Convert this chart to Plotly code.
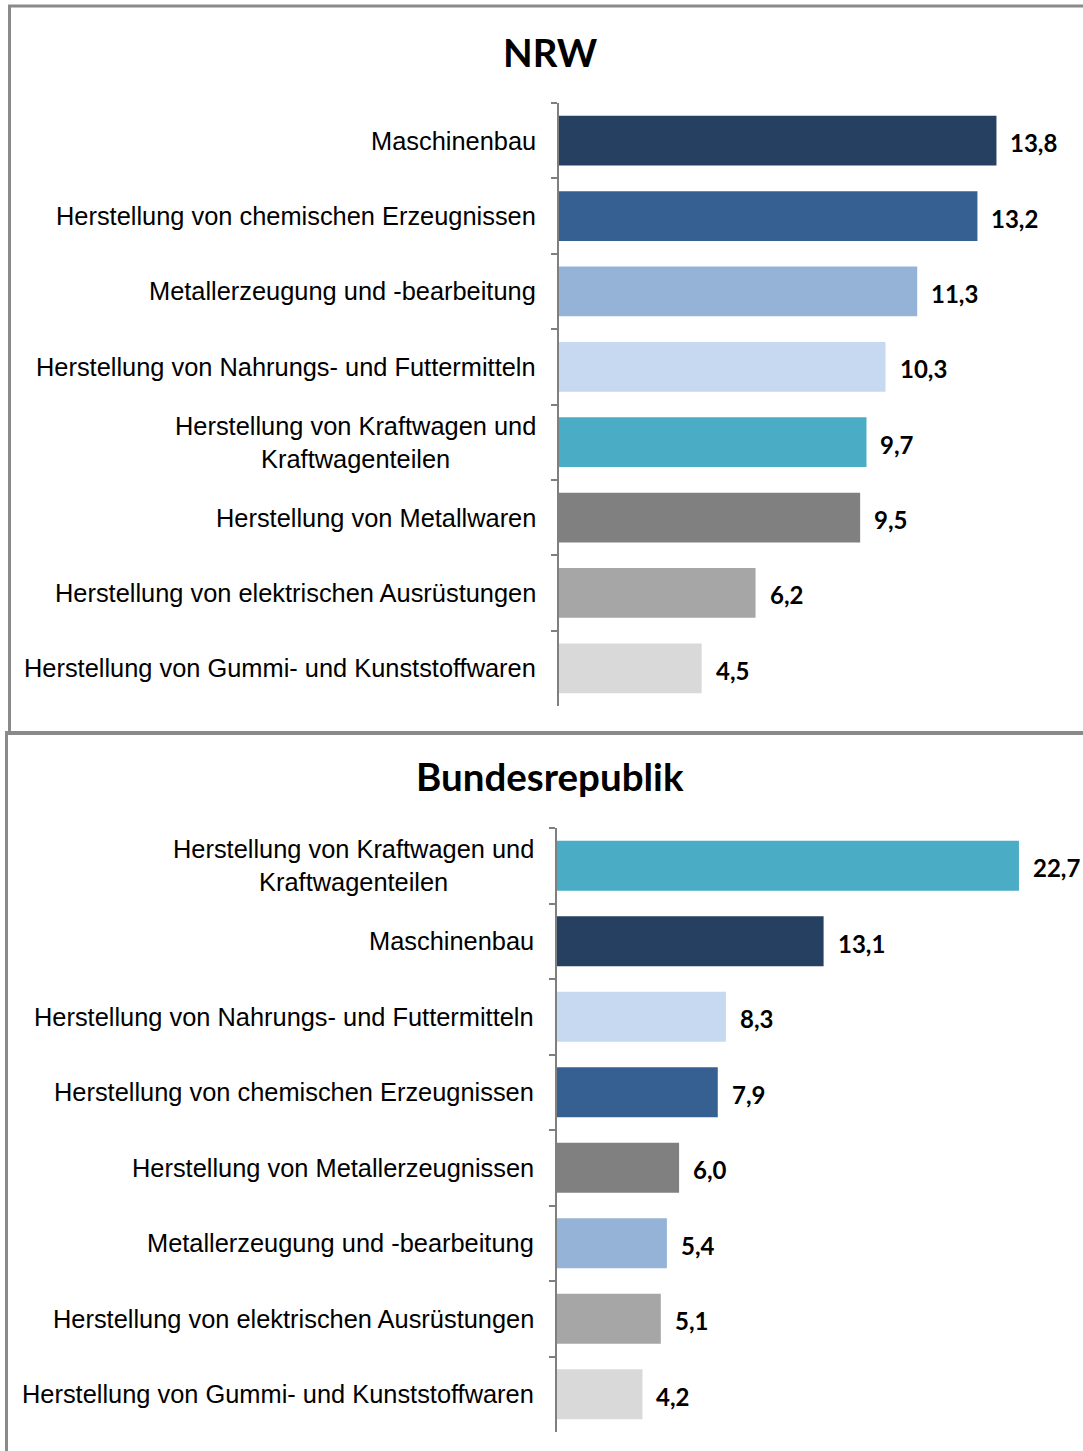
import plotly.graph_objects as go

# ---------------- data ----------------
nrw_categories = [
    "Maschinenbau",
    "Herstellung von chemischen Erzeugnissen",
    "Metallerzeugung und -bearbeitung",
    "Herstellung von Nahrungs- und Futtermitteln",
    "Herstellung von Kraftwagen und<br>Kraftwagenteilen",
    "Herstellung von Metallwaren",
    "Herstellung von elektrischen Ausrüstungen",
    "Herstellung von Gummi- und Kunststoffwaren",
]
nrw_values = [13.8, 13.2, 11.3, 10.3, 9.7, 9.5, 6.2, 4.5]
nrw_colors = ["#254061", "#376092", "#95B3D7", "#C6D9F1",
              "#4BACC6", "#808080", "#A6A6A6", "#D9D9D9"]

brd_categories = [
    "Herstellung von Kraftwagen und<br>Kraftwagenteilen",
    "Maschinenbau",
    "Herstellung von Nahrungs- und Futtermitteln",
    "Herstellung von chemischen Erzeugnissen",
    "Herstellung von Metallerzeugnissen",
    "Metallerzeugung und -bearbeitung",
    "Herstellung von elektrischen Ausrüstungen",
    "Herstellung von Gummi- und Kunststoffwaren",
]
brd_values = [22.7, 13.1, 8.3, 7.9, 6.0, 5.4, 5.1, 4.2]
brd_colors = ["#4BACC6", "#254061", "#C6D9F1", "#376092",
              "#808080", "#95B3D7", "#A6A6A6", "#D9D9D9"]

titles = ["NRW", "Bundesrepublik"]

# ---------------- layout helpers ----------------
W, H = 1083, 1451


def px(x):
    return x / W


def py(y):
    return 1 - y / H


LABEL_FONT = dict(family="Liberation Sans, Arial, sans-serif", size=25.4, color="#000000")
VALUE_FONT = dict(family="Lato, sans-serif", size=24, color="#000000")
TITLE_FONT = dict(family="Lato, sans-serif", size=38.5, color="#000000")
AXIS_GRAY = "#7f7f7f"

fig = go.Figure()

panels = [
    dict(cats=nrw_categories, vals=nrw_values, cols=nrw_colors, xa="x", ya="y",
         xd=[px(559), 1.0], yd=[py(706), py(103)], xmax=524 / 31.7, title_y=52),
    dict(cats=brd_categories, vals=brd_values, cols=brd_colors, xa="x2", ya="y2",
         xd=[px(557), 1.0], yd=[py(1432), py(828)], xmax=526 / 20.35, title_y=776),
]

annotations = []
for i, p in enumerate(panels):
    fig.add_trace(go.Bar(
        x=p["vals"], y=p["cats"], orientation="h",
        marker=dict(color=p["cols"], line=dict(width=0)),
        width=0.66, xaxis=p["xa"], yaxis=p["ya"],
        hoverinfo="skip", showlegend=False,
    ))
    sfx = "" if i == 0 else "2"
    fig.update_layout(**{
        "xaxis" + sfx: dict(domain=p["xd"], range=[0, p["xmax"]], visible=False,
                            anchor="y" + sfx, fixedrange=True),
        "yaxis" + sfx: dict(domain=p["yd"], type="category",
                            categoryorder="array", categoryarray=p["cats"],
                            range=[len(p["cats"]) - 0.5, -0.5],
                            showline=True, linecolor=AXIS_GRAY, linewidth=2,
                            ticks="outside", tickson="boundaries", ticklen=6,
                            tickcolor=AXIS_GRAY, tickwidth=1.5,
                            showticklabels=False, showgrid=False, zeroline=False,
                            anchor="x" + sfx, fixedrange=True),
    })
    xref = "x" + sfx
    yref = "y" + sfx
    for c, v in zip(p["cats"], p["vals"]):
        annotations.append(dict(
            x=0, y=c, xref=xref, yref=yref, text=c, showarrow=False,
            xanchor="right", yanchor="middle", align="center", xshift=-21,
            font=LABEL_FONT,
        ))
        annotations.append(dict(
            x=v, y=c, xref=xref, yref=yref,
            text="<b>" + f"{v:.1f}".replace(".", ",") + "</b>",
            showarrow=False, xanchor="left", yanchor="middle", xshift=12, yshift=-2,
            font=VALUE_FONT,
        ))
    annotations.append(dict(
        x=px(550), y=py(p["title_y"]), xref="paper", yref="paper",
        text="<b>" + titles[i] + "</b>", showarrow=False,
        xanchor="center", yanchor="middle", font=TITLE_FONT,
    ))

BORDER = "#8a8a8a"
shapes = [
    dict(type="line", xref="paper", yref="paper", x0=px(8), x1=1.0, y0=py(6), y1=py(6),
         line=dict(color=BORDER, width=3)),
    dict(type="line", xref="paper", yref="paper", x0=px(9.5), x1=px(9.5), y0=py(5), y1=py(731),
         line=dict(color=BORDER, width=3)),
    dict(type="line", xref="paper", yref="paper", x0=px(5), x1=1.0, y0=py(733), y1=py(733),
         line=dict(color=BORDER, width=4)),
    dict(type="line", xref="paper", yref="paper", x0=px(6.5), x1=px(6.5), y0=py(731), y1=0,
         line=dict(color=BORDER, width=3)),
]

fig.update_layout(
    width=W, height=H,
    margin=dict(l=0, r=0, t=0, b=0),
    paper_bgcolor="white", plot_bgcolor="white",
    annotations=annotations, shapes=shapes,
    bargap=0.34,
)

fig.write_html(
    "out.html",
    config={"displayModeBar": False},
    post_script="document.body.style.margin='0';document.body.style.overflow='hidden';",
)
